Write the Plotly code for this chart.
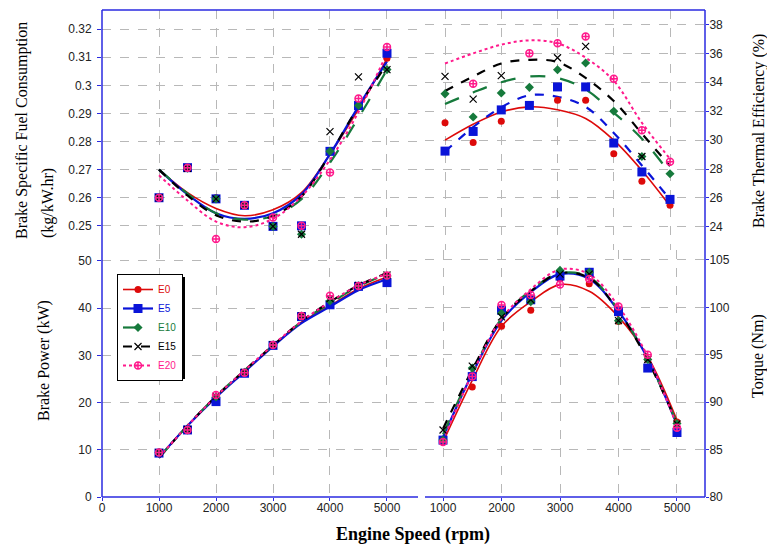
import plotly.graph_objects as go

W, H = 767, 546

rpm = [1000, 1500, 2000, 2500, 3000, 3500, 4000, 4500, 5000]
series = ["E0", "E5", "E10", "E15", "E20"]

# Brake specific fuel consumption (kg/kW.hr) - measured points
bsfc_e0 = [0.260, 0.2705, 0.2600, 0.2573, 0.2498, 0.2500, 0.2765, 0.2928, 0.3096]
bsfc_e5 = [0.260, 0.2707, 0.2596, 0.2573, 0.2498, 0.2500, 0.2765, 0.2928, 0.3114]
bsfc_e10 = [0.260, 0.2705, 0.2596, 0.2573, 0.2498, 0.2470, 0.2765, 0.2928, 0.3056]
bsfc_e15 = [0.260, 0.2705, 0.2596, 0.2573, 0.2498, 0.2470, 0.2835, 0.3030, 0.3056]
bsfc_e20 = [0.260, 0.2707, 0.2453, 0.2573, 0.2530, 0.2500, 0.2690, 0.2953, 0.3136]
# BSFC trend curves
bsfc_fit_e0 = [0.2700, 0.2618, 0.2562, 0.2536, 0.2557, 0.2618, 0.2755, 0.2915, 0.3095]
bsfc_fit_e5 = [0.2700, 0.2612, 0.2545, 0.2525, 0.2545, 0.2612, 0.2755, 0.2925, 0.3085]
bsfc_fit_e10 = [0.2700, 0.2615, 0.2545, 0.2522, 0.2535, 0.2595, 0.2725, 0.2885, 0.3055]
bsfc_fit_e15 = [0.2700, 0.2608, 0.2538, 0.2515, 0.2535, 0.2605, 0.2755, 0.2925, 0.3075]
bsfc_fit_e20 = [0.2680, 0.2590, 0.2515, 0.2495, 0.2525, 0.2605, 0.2735, 0.2905, 0.3115]

# Brake thermal efficiency (%) - measured points
bte_e0 = [31.2, 29.83, 31.31, 32.4, 32.76, 32.76, 29.06, 27.15, 25.5]
bte_e5 = [29.24, 30.6, 32.09, 32.4, 33.68, 33.68, 29.8, 27.8, 25.9]
bte_e10 = [33.2, 31.6, 33.26, 33.65, 34.87, 35.33, 32.0, 28.87, 27.67]
bte_e15 = [34.41, 32.84, 34.46, None, 35.7, 36.48, None, 28.87, None]
bte_e20 = [None, 33.9, None, 36.0, 36.7, 37.17, 34.25, 30.69, 28.5]
# BTE trend curves
bte_fit_e0 = [30.0, 31.1, 31.95, 32.3, 32.1, 31.5, 30.0, 27.9, 25.45]
bte_fit_e5 = [29.2, 30.9, 32.27, 33.1, 33.0, 32.3, 30.5, 28.25, 25.9]
bte_fit_e10 = [32.5, 33.3, 34.0, 34.4, 34.3, 33.5, 31.9, 30.1, 27.7]
bte_fit_e15 = [33.4, 34.4, 35.3, 35.55, 35.4, 34.3, 32.7, 30.45, 28.2]
bte_fit_e20 = [35.3, 36.0, 36.6, 36.9, 36.7, 35.7, 34.1, 31.2, 28.7]

# Brake power (kW) - measured points
bp_e0 = [9.4, 14.2, 21.0, 26.3, 32.1, 38.2, 41.0, 44.5, 46.5]
bp_e5 = [9.3, 14.2, 20.2, 26.2, 32.1, 38.2, 40.7, 44.6, 45.4]
bp_e10 = [9.4, 14.2, 21.2, 26.4, 32.2, 38.3, 41.5, 44.7, 46.8]
bp_e15 = [9.4, 14.3, 21.3, 26.4, 32.2, 38.3, 42.0, 44.8, 47.0]
bp_e20 = [9.4, 14.2, 21.6, 26.3, 32.2, 38.3, 42.6, 44.7, 46.9]
# Brake power trend curves
bp_fit_e0 = [8.4, 15.1, 21.2, 26.6, 32.0, 37.0, 40.5, 44.1, 46.6]
bp_fit_e5 = [8.4, 15.1, 21.1, 26.5, 31.9, 36.8, 40.3, 43.8, 46.1]
bp_fit_e10 = [8.3, 15.1, 21.3, 26.8, 32.1, 37.1, 41.0, 44.6, 47.2]
bp_fit_e15 = [8.3, 15.1, 21.3, 26.8, 32.1, 37.2, 41.3, 44.8, 47.4]
bp_fit_e20 = [8.4, 15.1, 21.3, 26.8, 32.2, 37.2, 41.3, 44.8, 47.3]

# Torque (Nm) - measured points
tq_e0 = [85.8, 91.6, 98.0, 99.7, 103.0, 102.5, 98.5, 94.5, 87.9]
tq_e5 = [86.0, 92.7, 99.7, 100.8, 103.3, 103.7, 99.55, 93.6, 86.8]
tq_e10 = [86.0, 93.6, 99.37, 100.6, 103.9, 103.7, 98.6, 94.5, 87.75]
tq_e15 = [87.07, 93.8, 99.0, 100.8, 103.5, 103.5, 98.6, 94.5, 87.7]
tq_e20 = [85.8, 92.7, 100.25, 101.3, 102.4, 103.0, 100.1, 95.0, 87.3]
# Torque trend curves
tq_fit_e0 = [85.8, 92.3, 98.0, 100.6, 102.4, 101.7, 99.0, 94.8, 88.1]
tq_fit_e5 = [86.3, 93.0, 98.6, 101.6, 103.5, 103.0, 99.6, 94.6, 87.6]
tq_fit_e10 = [86.6, 93.2, 98.8, 101.8, 103.6, 103.2, 99.7, 94.5, 87.8]
tq_fit_e15 = [87.2, 93.4, 98.8, 101.7, 103.6, 103.1, 99.6, 94.4, 87.8]
tq_fit_e20 = [86.0, 93.0, 98.8, 101.9, 104.0, 103.5, 100.1, 94.8, 87.5]

colors = {"E0": "#dd0a0a", "E5": "#0a14d8", "E10": "#167a3c", "E15": "#000000", "E20": "#ff1a8c"}
markers = {
    "E0": dict(symbol="circle", size=7),
    "E5": dict(symbol="square", size=9),
    "E10": dict(symbol="diamond", size=7),
    "E15": dict(symbol="x-thin", size=7, line=dict(width=1.2, color="#000")),
    "E20": dict(symbol="circle-cross-open", size=7, line=dict(width=1.5, color="#ff1a8c")),
}
dashes = {"E0": "solid", "E5": "solid", "E10": "longdash", "E15": "dash", "E20": "dot"}
widths = {"E0": 1.6, "E5": 2.2, "E10": 2.2, "E15": 2.2, "E20": 2.0}

panels = [
    ("x", "y", [bsfc_e0, bsfc_e5, bsfc_e10, bsfc_e15, bsfc_e20],
     [bsfc_fit_e0, bsfc_fit_e5, bsfc_fit_e10, bsfc_fit_e15, bsfc_fit_e20]),
    ("x2", "y2", [bte_e0, bte_e5, bte_e10, bte_e15, bte_e20],
     [bte_fit_e0, bte_fit_e5, bte_fit_e10, bte_fit_e15, bte_fit_e20]),
    ("x3", "y3", [bp_e0, bp_e5, bp_e10, bp_e15, bp_e20],
     [bp_fit_e0, bp_fit_e5, bp_fit_e10, bp_fit_e15, bp_fit_e20]),
    ("x4", "y4", [tq_e0, tq_e5, tq_e10, tq_e15, tq_e20],
     [tq_fit_e0, tq_fit_e5, tq_fit_e10, tq_fit_e15, tq_fit_e20]),
]

fig = go.Figure()
for xa, ya, pts, fits in panels:
    for s, f in zip(series, fits):
        dash = dashes[s]
        if xa == "x2" and s == "E5":
            dash = "dash"
        fig.add_trace(go.Scatter(
            x=rpm, y=f, xaxis=xa, yaxis=ya, mode="lines", showlegend=False,
            line=dict(color=colors[s], width=widths[s], dash=dash, shape="spline", smoothing=1.0)))
    for s, p in zip(series, pts):
        m = dict(markers[s])
        m["color"] = colors[s]
        fig.add_trace(go.Scatter(
            x=rpm, y=p, xaxis=xa, yaxis=ya, mode="markers", showlegend=False, marker=m))

# legend entries
for s in series:
    m = dict(markers[s])
    m["color"] = colors[s]
    fig.add_trace(go.Scatter(
        x=[None], y=[None], xaxis="x3", yaxis="y3", mode="lines+markers",
        name=f"<span style='color:{colors[s]}'>{s}</span>",
        line=dict(color=colors[s], width=widths[s], dash=dashes[s]), marker=m))

def px(v):
    return v / W

def py(v):
    return 1 - v / H

XL = [px(102), px(418)]
XR = [px(425), px(705)]
YT = [py(250), py(10)]
YB = [py(497), py(250)]

tickfont = dict(family="Liberation Sans, Arial", size=12, color="#222")
base = dict(showgrid=True, gridcolor="#b8b8b8", griddash="dash", gridwidth=1,
            zeroline=False, showline=False, automargin=False, tickfont=tickfont,
            tickcolor="#2a2ae0")

fig.update_layout(
    width=W, height=H, margin=dict(l=0, r=0, t=0, b=0),
    paper_bgcolor="white", plot_bgcolor="white",
    xaxis=dict(domain=XL, range=[0, 5544], anchor="y", tick0=0, dtick=1000,
               showticklabels=False, ticks="", **base),
    yaxis=dict(domain=YT, range=[0.2414, 0.3268], anchor="x", dtick=0.01, tick0=0.25,
               ticks="outside", ticklen=4, ticklabelstandoff=3, **base),
    xaxis2=dict(domain=XR, range=[644, 5622], anchor="y2", tick0=0, dtick=1000,
                showticklabels=False, ticks="", **base),
    yaxis2=dict(domain=YT, range=[22.4, 39.0], anchor="x2", side="right", dtick=2, tick0=0,
                ticks="outside", ticklen=3, ticklabelstandoff=-2, **base),
    xaxis3=dict(domain=XL, range=[0, 5544], anchor="y3", tick0=0, dtick=1000,
                ticks="outside", ticklen=3, ticklabelstandoff=-3, **base),
    yaxis3=dict(domain=YB, range=[0, 52.3], anchor="x3", dtick=10, tick0=0,
                ticks="outside", ticklen=4, ticklabelstandoff=3, **base),
    xaxis4=dict(domain=XR, range=[692, 5479], anchor="y4", tick0=0, dtick=1000,
                ticks="outside", ticklen=3, ticklabelstandoff=-3, **base),
    yaxis4=dict(domain=YB, range=[80, 106.05], anchor="x4", side="right", dtick=5, tick0=0,
                ticks="outside", ticklen=3, ticklabelstandoff=-2, **base),
    legend=dict(x=px(117), y=py(274), xanchor="left", yanchor="top",
                bgcolor="white", bordercolor="#000", borderwidth=1,
                font=dict(family="Liberation Sans, Arial", size=10),
                tracegroupgap=0, itemwidth=30),
)

blue = "#2a2ae0"
# legend drop shadow
fig.add_shape(type="rect", xref="paper", yref="paper", x0=px(120), x1=px(185),
              y0=py(379), y1=py(277), line=dict(width=0), fillcolor="#000", layer="above")
lines = [
    (102, 10, 102, 497), (102, 10, 705, 10), (705, 10, 705, 497),
    (102, 497, 418, 497), (425, 497, 705, 497),
]
for x0, y0, x1, y1 in lines:
    fig.add_shape(type="line", xref="paper", yref="paper", x0=px(x0), y0=py(y0), x1=px(x1), y1=py(y1),
                  line=dict(color=blue, width=1.5))

serif = "Liberation Serif, Times New Roman"
ann = [
    ("Brake Specific Fuel Consumption", 22, 131, -90, 16, False),
    ("(kg/kW.hr)", 48, 203, -90, 16, False),
    ("Brake Power (kW)", 44, 361, -90, 16, False),
    ("Brake Thermal Efficiency (%)", 759, 131, -90, 16, False),
    ("Torque (Nm)", 758, 356, -90, 16, False),
    ("Engine Speed (rpm)", 413, 534, 0, 18, True),
]
for t, x, y, ang, sz, bold in ann:
    fig.add_annotation(text=f"<b>{t}</b>" if bold else t, xref="paper", yref="paper",
                       x=px(x), y=py(y), xanchor="center", yanchor="middle",
                       textangle=ang, showarrow=False,
                       font=dict(family=serif, size=sz, color="#000"))

fig.write_html("out.html", config={"displayModeBar": False},
               post_script="document.body.style.margin='0px';")
